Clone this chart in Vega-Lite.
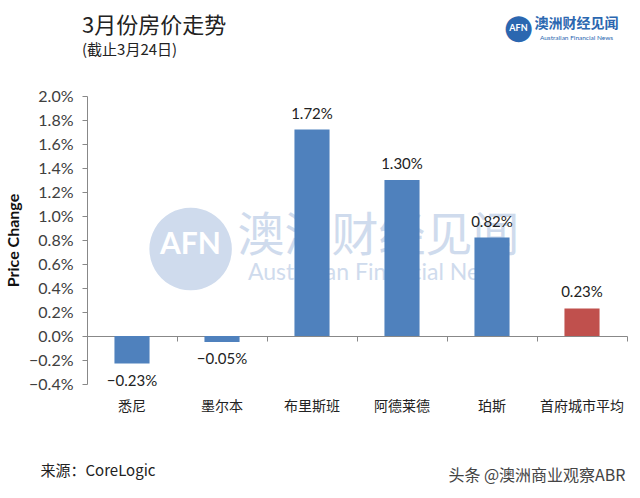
{
  "$schema": "https://vega.github.io/schema/vega-lite/v6.json",
  "width": 540,
  "height": 288,
  "autosize": {"type": "none"},
  "padding": {"left": 87, "top": 96, "right": 13, "bottom": 114},
  "background": "#ffffff",
  "config": {"view": {"stroke": null}, "font": "Lato, Noto Sans CJK SC"},
  "title": {
    "text": "3月份房价走势",
    "subtitle": "(截止3月24日)",
    "anchor": "start",
    "frame": "group",
    "dx": -5,
    "offset": -49,
    "font": "Noto Sans CJK SC",
    "fontSize": 22,
    "fontWeight": "normal",
    "color": "#222222",
    "subtitleFont": "Noto Sans CJK SC",
    "subtitleFontSize": 15,
    "subtitleColor": "#222222",
    "subtitlePadding": 5
  },
  "data": {
    "values": [
      {"city": "悉尼", "change": -0.0023, "group": "city"},
      {"city": "墨尔本", "change": -0.0005, "group": "city"},
      {"city": "布里斯班", "change": 0.0172, "group": "city"},
      {"city": "阿德莱德", "change": 0.013, "group": "city"},
      {"city": "珀斯", "change": 0.0082, "group": "city"},
      {"city": "首府城市平均", "change": 0.0023, "group": "avg"}
    ]
  },
  "layer": [
    {
      "mark": {"type": "text", "text": ""},
      "encoding": {
        "x": {"field": "city", "type": "nominal", "sort": null, "axis": null},
        "y": {
          "field": "change", "type": "quantitative",
          "axis": {
            "orient": "right", "domain": false, "ticks": false, "labels": false, "grid": false, "zindex": 0,
            "title": "●", "titleAngle": 0, "titleX": -437, "titleY": 148,
            "titleAlign": "center", "titleBaseline": "middle", "titleColor": "#cfdbed",
            "titleFont": "DejaVu Sans", "titleFontSize": 108, "titleFontWeight": "normal"
          }
        }
      }
    },
    {
      "mark": {"type": "text", "text": ""},
      "encoding": {
        "x": {"field": "city", "type": "nominal", "sort": null, "axis": null},
        "y": {
          "field": "change", "type": "quantitative",
          "axis": {
            "orient": "right", "domain": false, "ticks": false, "labels": false, "grid": false, "zindex": 0,
            "title": "AFN", "titleAngle": 0, "titleX": -437, "titleY": 148,
            "titleAlign": "center", "titleBaseline": "middle", "titleColor": "#ffffff",
            "titleFont": "Lato", "titleFontSize": 30, "titleFontWeight": "bold"
          }
        }
      }
    },
    {
      "mark": {"type": "text", "text": ""},
      "encoding": {
        "x": {"field": "city", "type": "nominal", "sort": null, "axis": null},
        "y": {
          "field": "change", "type": "quantitative",
          "axis": {
            "orient": "right", "domain": false, "ticks": false, "labels": false, "grid": false, "zindex": 0,
            "title": "澳洲财经见闻", "titleAngle": 0, "titleX": -249, "titleY": 140,
            "titleAlign": "center", "titleBaseline": "middle", "titleColor": "#cfdbed",
            "titleFont": "Noto Sans CJK SC", "titleFontSize": 47, "titleFontWeight": "normal"
          }
        }
      }
    },
    {
      "mark": {"type": "text", "text": ""},
      "encoding": {
        "x": {"field": "city", "type": "nominal", "sort": null, "axis": null},
        "y": {
          "field": "change", "type": "quantitative",
          "axis": {
            "orient": "right", "domain": false, "ticks": false, "labels": false, "grid": false, "zindex": 0,
            "title": "Australian Financial News", "titleAngle": 0, "titleX": -250, "titleY": 176,
            "titleAlign": "center", "titleBaseline": "middle", "titleColor": "#cfdbed",
            "titleFont": "Lato", "titleFontSize": 23, "titleFontWeight": "normal"
          }
        }
      }
    },
    {
      "mark": {"type": "bar", "width": {"band": 0.39}},
      "encoding": {
        "x": {
          "field": "city", "type": "nominal", "sort": null,
          "scale": {"paddingInner": 0, "paddingOuter": 0},
          "axis": {
            "orient": "bottom", "domain": false, "ticks": false, "labelAngle": 0,
            "labelFont": "Noto Sans CJK SC", "labelFontSize": 14, "labelColor": "#222222",
            "labelPadding": 15,
            "title": "来源：CoreLogic", "titleX": -47, "titleY": 86, "titleAlign": "left",
            "titleBaseline": "middle", "titleFont": "Noto Sans CJK SC", "titleFontSize": 15,
            "titleFontWeight": "normal", "titleColor": "#222222"
          }
        },
        "y": {
          "field": "change", "type": "quantitative",
          "scale": {"domain": [-0.004, 0.02], "nice": false, "zero": false},
          "axis": {
            "values": [-0.004, -0.002, 0, 0.002, 0.004, 0.006, 0.008, 0.01, 0.012, 0.014, 0.016, 0.018, 0.02],
            "format": ".1%", "grid": false,
            "domainColor": "#888888", "tickColor": "#888888", "tickSize": 5,
            "labelFont": "Lato", "labelFontSize": 16, "labelColor": "#404040", "labelPadding": 9,
            "title": "Price Change", "titleFont": "Lato", "titleFontSize": 16, "titleFontWeight": "bold",
            "titleColor": "#111111", "titlePadding": 7
          }
        },
        "color": {
          "field": "group", "type": "nominal",
          "scale": {"domain": ["city", "avg"], "range": ["#4f81bd", "#c0504d"]},
          "legend": null
        }
      }
    },
    {
      "transform": [{"filter": "datum.change >= 0"}],
      "mark": {"type": "text", "baseline": "bottom", "dy": -8, "font": "Lato", "fontSize": 15, "color": "#222222"},
      "encoding": {
        "x": {
          "field": "city", "type": "nominal", "sort": null,
          "axis": {
            "orient": "top", "offset": -240, "domain": true, "domainColor": "#888888",
            "ticks": true, "tickSize": -5, "tickColor": "#888888", "bandPosition": 1,
            "labels": false,
            "title": "头条 @澳洲商业观察ABR", "titleX": 538, "titleY": 139, "titleAlign": "right",
            "titleBaseline": "middle", "titleFont": "Noto Sans CJK SC", "titleFontSize": 16,
            "titleFontWeight": "normal", "titleColor": "#444444"
          }
        },
        "y": {
          "field": "change", "type": "quantitative",
          "axis": {
            "orient": "right", "domain": false, "ticks": false, "labels": false, "grid": false,
            "title": "澳洲财经见闻", "titleAngle": 0, "titleX": -51, "titleY": -73,
            "titleAlign": "center", "titleBaseline": "middle", "titleColor": "#2b67b0",
            "titleFont": "Noto Sans CJK SC", "titleFontSize": 14, "titleFontWeight": "bold"
          }
        },
        "text": {"field": "change", "type": "quantitative", "format": ".2%"}
      }
    },
    {
      "transform": [{"filter": "datum.change < 0"}],
      "mark": {"type": "text", "baseline": "top", "dy": 10, "font": "Lato", "fontSize": 15, "color": "#222222"},
      "encoding": {
        "x": {"field": "city", "type": "nominal", "sort": null, "axis": null},
        "y": {
          "field": "change", "type": "quantitative",
          "axis": {
            "orient": "right", "domain": false, "ticks": false, "labels": false, "grid": false,
            "title": "Australian Financial News", "titleAngle": 0, "titleX": -51, "titleY": -59,
            "titleAlign": "center", "titleBaseline": "middle", "titleColor": "#2b67b0",
            "titleFont": "Lato", "titleFontSize": 6.5, "titleFontWeight": "normal"
          }
        },
        "text": {"field": "change", "type": "quantitative", "format": ".2%"}
      }
    },
    {
      "mark": {"type": "text", "text": ""},
      "encoding": {
        "x": {"field": "city", "type": "nominal", "sort": null, "axis": null},
        "y": {
          "field": "change", "type": "quantitative",
          "axis": {
            "orient": "right", "domain": false, "ticks": false, "labels": false, "grid": false,
            "title": "●", "titleAngle": 0, "titleX": -109, "titleY": -69,
            "titleAlign": "center", "titleBaseline": "middle", "titleColor": "#2b67b0",
            "titleFont": "DejaVu Sans", "titleFontSize": 34, "titleFontWeight": "normal"
          }
        }
      }
    },
    {
      "mark": {"type": "text", "text": ""},
      "encoding": {
        "x": {"field": "city", "type": "nominal", "sort": null, "axis": null},
        "y": {
          "field": "change", "type": "quantitative",
          "axis": {
            "orient": "right", "domain": false, "ticks": false, "labels": false, "grid": false,
            "title": "AFN", "titleAngle": 0, "titleX": -109, "titleY": -69,
            "titleAlign": "center", "titleBaseline": "middle", "titleColor": "#ffffff",
            "titleFont": "Lato", "titleFontSize": 9, "titleFontWeight": "bold"
          }
        }
      }
    }
  ],
  "resolve": {"axis": {"x": "independent", "y": "independent"}}
}
